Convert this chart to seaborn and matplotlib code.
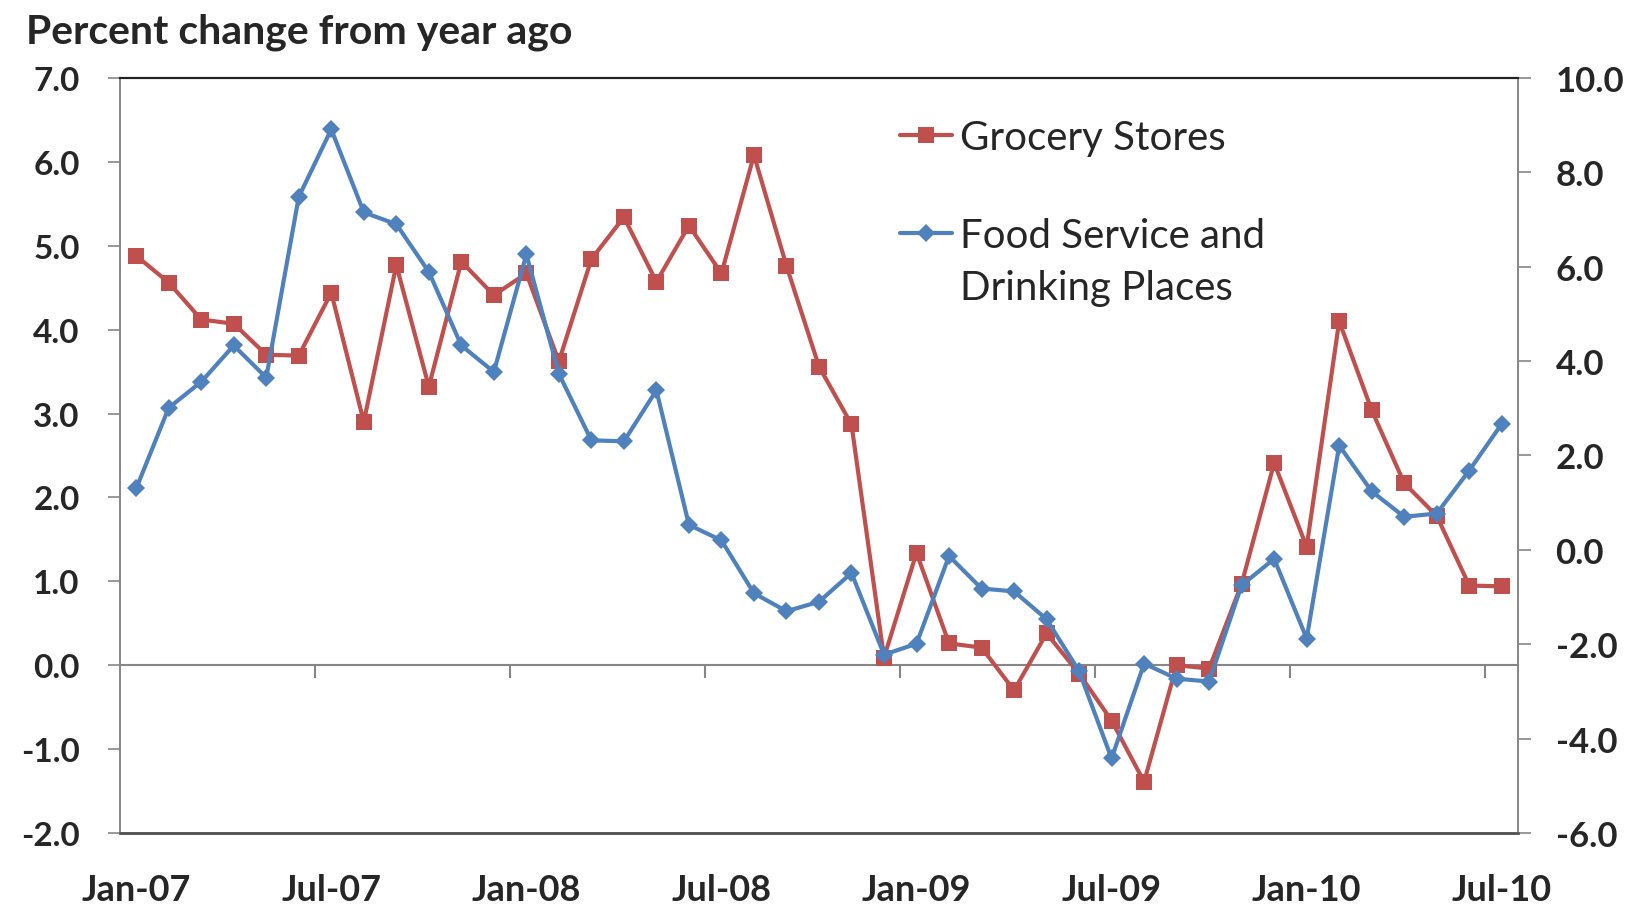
import numpy as np
import pandas as pd
import seaborn as sns
import matplotlib.pyplot as plt
from matplotlib.ticker import FormatStrFormatter

# monthly, Jan-07 .. Jul-10
months = pd.date_range("2007-01-01", "2010-07-01", freq="MS")

# left axis: grocery stores, % change from year ago
grocery = [4.88, 4.56, 4.12, 4.07, 3.70, 3.69, 4.44, 2.90, 4.77, 3.32, 4.81, 4.41,
           4.67, 3.62, 4.84, 5.34, 4.57, 5.24, 4.67, 6.08, 4.76, 3.56, 2.87, 0.09,
           1.34, 0.26, 0.21, -0.30, 0.38, -0.10, -0.66, -1.39, 0.00, -0.04, 0.97, 2.41,
           1.41, 4.10, 3.04, 2.17, 1.78, 0.95, 0.94]

# right axis: food service and drinking places
food_service = [1.30, 3.01, 3.56, 4.33, 3.65, 7.48, 8.91, 7.15, 6.90, 5.89, 4.33, 3.77,
                6.26, 3.73, 2.32, 2.30, 3.38, 0.53, 0.20, -0.92, -1.30, -1.10, -0.49, -2.22,
                -1.99, -0.13, -0.82, -0.88, -1.47, -2.57, -4.42, -2.41, -2.73, -2.79, -0.75, -0.19,
                -1.88, 2.21, 1.24, 0.70, 0.77, 1.68, 2.67]

tick_labels = ["Jan-07", "Jul-07", "Jan-08", "Jul-08", "Jan-09", "Jul-09", "Jan-10", "Jul-10"]

RED = "#C0504D"
BLUE = "#4F81BD"
GREY = "#868686"

sns.set_theme(style="white")
plt.rcParams["font.family"] = ["Lato", "DejaVu Sans"]

df = pd.DataFrame({"idx": np.arange(len(months)), "grocery": grocery, "food": food_service})
n = len(df)

fig = plt.figure(figsize=(16.5, 9.12), dpi=100)
ax = fig.add_axes([0.0727, 0.0855, 0.8473, 0.828])
ax2 = ax.twinx()

sns.lineplot(data=df, x="idx", y="grocery", ax=ax, color=RED, marker="s", markersize=11,
             markeredgewidth=0, linewidth=3, label="Grocery Stores", legend=False)
sns.lineplot(data=df, x="idx", y="food", ax=ax2, color=BLUE, marker="D", markersize=9,
             markeredgewidth=0, linewidth=3, label="Food Service and", legend=False)

ax.set_xlim(-0.5, n - 0.5)
ax.set_ylim(-2, 7)
ax2.set_ylim(-6, 10)
ax.set_yticks(np.arange(-2, 8, 1))
ax2.set_yticks(np.arange(-6, 11, 2))
ax.yaxis.set_major_formatter(FormatStrFormatter("%.1f"))
ax2.yaxis.set_major_formatter(FormatStrFormatter("%.1f"))
ax.set_xlabel("")
ax.set_ylabel("")
ax2.set_ylabel("")

# category labels at the bottom, every 6 months
label_pos = np.arange(0, n, 6)
ax.set_xticks(label_pos)
ax.set_xticklabels(tick_labels)
ax.tick_params(axis="x", length=0, pad=29, labelsize=26)
for t in ax.get_xticklabels():
    t.set_fontweight("bold")

ax.tick_params(axis="y", direction="out", length=9, width=1.2, color=GREY, pad=20, labelsize=24, left=True)
ax2.tick_params(axis="y", direction="out", length=9, width=1.2, color=GREY, pad=18, labelsize=25, right=True)
for t in ax.get_yticklabels() + ax2.get_yticklabels():
    t.set_fontweight("bold")

# category axis crossing at zero, with tick marks between categories
ymin, ymax = ax.get_ylim()
sec = ax.secondary_xaxis((0 - ymin) / (ymax - ymin))
sec.set_xticks(np.arange(5.5, n, 6))
sec.set_xticklabels([])
sec.tick_params(axis="x", direction="out", length=9, width=1.5, color=GREY)
sec.spines["bottom"].set_color(GREY)
sec.spines["bottom"].set_linewidth(1.5)

for a in (ax, ax2):
    a.spines["top"].set_color("#222222")
    a.spines["top"].set_linewidth(1.5)
    a.spines["left"].set_color(GREY)
    a.spines["left"].set_linewidth(1.2)
    a.spines["right"].set_color(GREY)
    a.spines["right"].set_linewidth(1.2)
    a.spines["bottom"].set_color("#555555")
    a.spines["bottom"].set_linewidth(1.8)
ax2.grid(False)
ax.grid(False)

h1, l1 = ax.get_legend_handles_labels()
h2, l2 = ax2.get_legend_handles_labels()
leg = ax2.legend(h1 + h2, l1 + l2, loc="upper left", bbox_to_anchor=(0.5455, 0.868),
                 bbox_transform=fig.transFigure, frameon=False, fontsize=29, handlelength=1.3,
                 handletextpad=0.2, labelspacing=1.5, borderpad=0, borderaxespad=0)
# second line of the food service label, under its first line
ax2.annotate("Drinking Places", xy=(0, 0), xycoords=leg.get_texts()[1], xytext=(0, -11),
             textcoords="offset points", ha="left", va="top", fontsize=29, zorder=10)

fig.text(0.016, 0.985, "Percent change from year ago", fontsize=29.5, fontweight="bold",
         ha="left", va="top")

fig.canvas.draw()
fig.savefig("out.png", dpi=100)
